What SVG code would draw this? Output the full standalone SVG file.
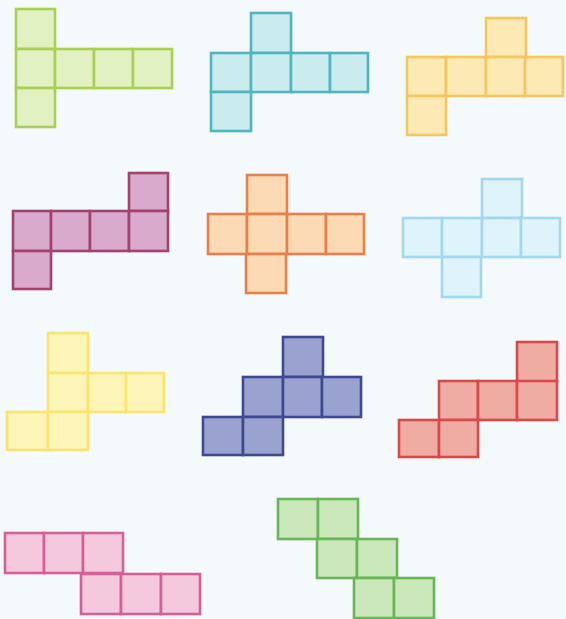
<svg xmlns="http://www.w3.org/2000/svg" width="566" height="619" viewBox="0 0 566 619">
<style>
rect.c{stroke-width:2.6;stroke-linejoin:miter}
.n1 rect{fill:#e2f1c2;stroke:#a9cf55}
.n2 rect{fill:#cbecef;stroke:#4fb6c0}
.n3 rect{fill:#fde9b4;stroke:#f4c660}
.n4 rect{fill:#d9aacb;stroke:#a3426f}
.n5 rect{fill:#fbdab4;stroke:#e7804c}
.n6 rect{fill:#def3fa;stroke:#a3d7ef}
.n7 rect{fill:#fdf6b8;stroke:#f9e56c}
.n8 rect{fill:#9aa3cf;stroke:#3d4a8f}
.n9 rect{fill:#efaca3;stroke:#d8494a}
.n10 rect{fill:#f5c9dd;stroke:#d65f97}
.n11 rect{fill:#cae8ba;stroke:#69b65a}
</style>
<rect width="566" height="619" fill="#f4fafb"/>
<g id="net1" class="n1">
<rect class="c" x="16" y="9" width="39" height="40"/>
<rect class="c" x="16" y="49" width="39" height="39"/>
<rect class="c" x="55" y="49" width="39" height="39"/>
<rect class="c" x="94" y="49" width="39" height="39"/>
<rect class="c" x="133" y="49" width="39" height="39"/>
<rect class="c" x="16" y="88" width="39" height="39"/>
</g>
<g id="net2" class="n2">
<rect class="c" x="251" y="13" width="40" height="40"/>
<rect class="c" x="211" y="53" width="40" height="39"/>
<rect class="c" x="251" y="53" width="40" height="39"/>
<rect class="c" x="291" y="53" width="39" height="39"/>
<rect class="c" x="330" y="53" width="38" height="39"/>
<rect class="c" x="211" y="92" width="40" height="39"/>
</g>
<g id="net3" class="n3">
<rect class="c" x="486" y="18" width="40" height="39"/>
<rect class="c" x="407" y="57" width="39" height="39"/>
<rect class="c" x="446" y="57" width="40" height="39"/>
<rect class="c" x="486" y="57" width="39" height="39"/>
<rect class="c" x="525" y="57" width="38" height="39"/>
<rect class="c" x="407" y="96" width="39" height="39"/>
</g>
<g id="net4" class="n4">
<rect class="c" x="129" y="173" width="39" height="38"/>
<rect class="c" x="13" y="211" width="38" height="40"/>
<rect class="c" x="51" y="211" width="39" height="40"/>
<rect class="c" x="90" y="211" width="39" height="40"/>
<rect class="c" x="129" y="211" width="39" height="40"/>
<rect class="c" x="13" y="251" width="38" height="38"/>
</g>
<g id="net5" class="n5">
<rect class="c" x="247" y="175" width="40" height="39"/>
<rect class="c" x="208" y="214" width="39" height="40"/>
<rect class="c" x="247" y="214" width="40" height="40"/>
<rect class="c" x="287" y="214" width="39" height="40"/>
<rect class="c" x="326" y="214" width="38" height="40"/>
<rect class="c" x="246" y="254" width="40" height="39"/>
</g>
<g id="net6" class="n6">
<rect class="c" x="482" y="179" width="40" height="39"/>
<rect class="c" x="403" y="218" width="39" height="39"/>
<rect class="c" x="442" y="218" width="40" height="39"/>
<rect class="c" x="482" y="218" width="39" height="39"/>
<rect class="c" x="521" y="218" width="39" height="39"/>
<rect class="c" x="442" y="257" width="39" height="40"/>
</g>
<g id="net7" class="n7">
<rect class="c" x="48" y="333" width="40" height="40"/>
<rect class="c" x="48" y="373" width="40" height="39"/>
<rect class="c" x="88" y="373" width="38" height="39"/>
<rect class="c" x="126" y="373" width="38" height="39"/>
<rect class="c" x="7" y="412" width="41" height="38"/>
<rect class="c" x="48" y="412" width="40" height="38"/>
</g>
<g id="net8" class="n8">
<rect class="c" x="283" y="337" width="40" height="40"/>
<rect class="c" x="243" y="377" width="40" height="40"/>
<rect class="c" x="283" y="377" width="39" height="40"/>
<rect class="c" x="322" y="377" width="39" height="40"/>
<rect class="c" x="203" y="417" width="40" height="38"/>
<rect class="c" x="243" y="417" width="40" height="38"/>
</g>
<g id="net9" class="n9">
<rect class="c" x="517" y="342" width="40" height="40"/>
<rect class="c" x="439" y="381" width="39" height="39"/>
<rect class="c" x="478" y="381" width="39" height="39"/>
<rect class="c" x="517" y="381" width="40" height="39"/>
<rect class="c" x="399" y="420" width="40" height="37"/>
<rect class="c" x="439" y="420" width="39" height="37"/>
</g>
<g id="net10" class="n10">
<rect class="c" x="5" y="533" width="39" height="40"/>
<rect class="c" x="44" y="533" width="39" height="40"/>
<rect class="c" x="83" y="533" width="40" height="40"/>
<rect class="c" x="81" y="574" width="40" height="40"/>
<rect class="c" x="121" y="574" width="40" height="40"/>
<rect class="c" x="161" y="574" width="39" height="40"/>
</g>
<g id="net11" class="n11">
<rect class="c" x="278" y="499" width="40" height="40"/>
<rect class="c" x="318" y="499" width="40" height="40"/>
<rect class="c" x="317" y="539" width="40" height="39"/>
<rect class="c" x="357" y="539" width="40" height="39"/>
<rect class="c" x="354" y="578" width="40" height="40"/>
<rect class="c" x="394" y="578" width="40" height="40"/>
</g>
<g id="connectors"></g>
</svg>
